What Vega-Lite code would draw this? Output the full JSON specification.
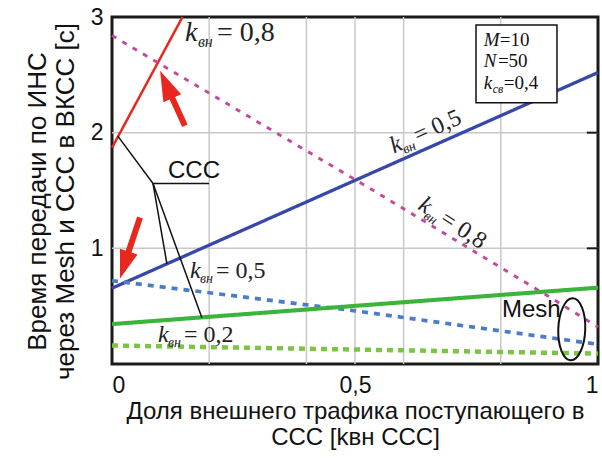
{
  "$schema": "https://vega.github.io/schema/vega-lite/v6.json",
  "width": 486,
  "height": 347,
  "autosize": "none",
  "padding": {"left": 112, "top": 17, "right": 4, "bottom": 96},
  "background": "white",
  "config": {
    "view": {"stroke": "#1a1a1a", "strokeWidth": 3},
    "axis": {
      "grid": false, "domain": false, "ticks": false,
      "labelFont": "Liberation Sans", "labelFontSize": 23, "labelColor": "#111",
      "labelOverlap": false, "labelBound": false,
      "titleFont": "Liberation Sans", "titleFontWeight": "normal", "titleColor": "#111"
    }
  },
  "datasets": {
    "vgrid": [{"x": 0.2}, {"x": 0.4}, {"x": 0.5}, {"x": 0.6}, {"x": 0.8}],
    "hgrid": [{"y": 1}, {"y": 2}],
    "rticks": [{"x": 0.977, "x2": 1, "y": 1}, {"x": 0.977, "x2": 1, "y": 2}],
    "lines": [
      {"s": "ССС 0,8", "x": 0, "y": 1.87}, {"s": "ССС 0,8", "x": 0.145, "y": 3.0},
      {"s": "Mesh 0,8", "x": 0, "y": 2.84}, {"s": "Mesh 0,8", "x": 0.53, "y": 1.52}, {"s": "Mesh 0,8", "x": 0.9, "y": 0.58}, {"s": "Mesh 0,8", "x": 1, "y": 0.32},
      {"s": "ССС 0,5", "x": 0, "y": 0.655}, {"s": "ССС 0,5", "x": 1, "y": 2.52},
      {"s": "Mesh 0,5", "x": 0, "y": 0.72}, {"s": "Mesh 0,5", "x": 0.5, "y": 0.46}, {"s": "Mesh 0,5", "x": 1, "y": 0.17},
      {"s": "ССС 0,2", "x": 0, "y": 0.345}, {"s": "ССС 0,2", "x": 1, "y": 0.66},
      {"s": "Mesh 0,2", "x": 0, "y": 0.16}, {"s": "Mesh 0,2", "x": 1, "y": 0.09}
    ],
    "leaders": [
      {"g": "a", "o": 0, "x": 0.012, "y": 1.97}, {"g": "a", "o": 1, "x": 0.0844, "y": 1.56}, {"g": "a", "o": 2, "x": 0.1996, "y": 1.56},
      {"g": "b", "o": 0, "x": 0.0844, "y": 1.56}, {"g": "b", "o": 1, "x": 0.113, "y": 0.866},
      {"g": "c", "o": 0, "x": 0.0844, "y": 1.56}, {"g": "c", "o": 1, "x": 0.185, "y": 0.40}
    ],
    "shafts": [
      {"a": 1, "o": 0, "x": 0.150, "y": 2.060}, {"a": 1, "o": 1, "x": 0.119, "y": 2.345},
      {"a": 2, "o": 0, "x": 0.0576, "y": 1.267}, {"a": 2, "o": 1, "x": 0.0309, "y": 0.931}
    ],
    "head1": [{"x": 0.1115, "y": 2.416}],
    "head2": [{"x": 0.0255, "y": 0.856}],
    "ellipse": [{"x": 0.946, "y": 0.30}],
    "topLab": [{"x": 0.150, "y": 2.793, "k": "k", "sub": "вн", "rest": "= 0,8"}],
    "klabels": [
      {"x": 0.1605, "y": 0.741, "k": "k", "sub": "вн", "rest": "= 0,5"},
      {"x": 0.0947, "y": 0.19, "k": "k", "sub": "вн", "rest": "= 0,2"}
    ],
    "rotBlue": [{"x": 0.580, "y": 1.819, "k": "k", "sub": "вн", "rest": "= 0,5"}],
    "rotMag": [{"x": 0.6276, "y": 1.345, "k": "k", "sub": "вн", "rest": "= 0,8"}],
    "box": [{"x": 0.749, "x2": 0.9156, "y": 2.931, "y2": 2.259}],
    "boxVar": [{"x": 0.765, "y": 2.750, "t": "M"}, {"x": 0.765, "y": 2.565, "t": "N"}, {"x": 0.765, "y": 2.375, "t": "k"}],
    "boxSub": [{"x": 0.765, "y": 2.375, "t": "св"}],
    "boxVal": [{"x": 0.798, "y": 2.750, "t": "=10"}, {"x": 0.794, "y": 2.565, "t": "=50"}, {"x": 0.806, "y": 2.375, "t": "=0,4"}],
    "sans": [{"x": 0.1152, "y": 1.612, "t": "ССС"}, {"x": 0.8025, "y": 0.405, "t": "Mesh"}]
  },
  "layer": [
    {
      "data": {"name": "vgrid"},
      "mark": {"type": "rule", "color": "#c8c8c8", "strokeWidth": 1.5},
      "encoding": {"x": {"field": "x", "type": "quantitative"}}
    },
    {
      "data": {"name": "hgrid"},
      "mark": {"type": "rule", "color": "#c8c8c8", "strokeWidth": 1.5},
      "encoding": {"y": {"field": "y", "type": "quantitative"}}
    },
    {
      "data": {"name": "lines"},
      "mark": {"type": "line", "strokeCap": "butt"},
      "encoding": {
        "x": {
          "field": "x", "type": "quantitative",
          "scale": {"domain": [0, 1], "nice": false},
          "axis": {
            "values": [0, 0.5, 1],
            "labelExpr": "replace(format(datum.value, '~g'), '.', ',')",
            "labelFlush": true,
            "labelPadding": 10,
            "title": ["Доля внешнего трафика поступающего в", "ССС [kвн ССС]"],
            "titleFontSize": 24, "titleLineHeight": 26, "titlePadding": 2
          }
        },
        "y": {
          "field": "y", "type": "quantitative",
          "scale": {"domain": [0, 3], "nice": false},
          "axis": {
            "values": [1, 2, 3],
            "labelExpr": "replace(format(datum.value, '~g'), '.', ',')",
            "labelFlush": false,
            "labelPadding": 9,
            "title": ["Время передачи по  ИНС", "через Mesh и ССС в ВКСС [с]"],
            "titleFontSize": 26, "titleLineHeight": 28, "titlePadding": 12, "titleY": 184
          }
        },
        "detail": {"field": "s"},
        "color": {
          "field": "s", "legend": null,
          "scale": {
            "domain": ["ССС 0,8", "Mesh 0,8", "ССС 0,5", "Mesh 0,5", "ССС 0,2", "Mesh 0,2"],
            "range": ["#e8281e", "#c4489c", "#3848a8", "#4a7cc8", "#3cb43c", "#7cc444"]
          }
        },
        "strokeDash": {
          "field": "s", "legend": null,
          "scale": {
            "domain": ["ССС 0,8", "Mesh 0,8", "ССС 0,5", "Mesh 0,5", "ССС 0,2", "Mesh 0,2"],
            "range": [[1, 0], [5, 7], [1, 0], [6, 6], [1, 0], [6, 5]]
          }
        },
        "strokeWidth": {
          "field": "s", "type": "nominal", "legend": null,
          "scale": {
            "domain": ["ССС 0,8", "Mesh 0,8", "ССС 0,5", "Mesh 0,5", "ССС 0,2", "Mesh 0,2"],
            "range": [2.5, 4.5, 3.5, 4, 4, 4.5]
          }
        }
      }
    },
    {
      "data": {"name": "rticks"},
      "mark": {"type": "rule", "color": "#1a1a1a", "strokeWidth": 2},
      "encoding": {
        "x": {"field": "x", "type": "quantitative"},
        "x2": {"field": "x2"},
        "y": {"field": "y", "type": "quantitative"}
      }
    },
    {
      "data": {"name": "leaders"},
      "mark": {"type": "line", "color": "#111", "strokeWidth": 1.5},
      "encoding": {
        "x": {"field": "x", "type": "quantitative"},
        "y": {"field": "y", "type": "quantitative"},
        "detail": {"field": "g"},
        "order": {"field": "o"}
      }
    },
    {
      "data": {"name": "shafts"},
      "mark": {"type": "line", "color": "#e8281e", "strokeWidth": 6, "strokeCap": "butt"},
      "encoding": {
        "x": {"field": "x", "type": "quantitative"},
        "y": {"field": "y", "type": "quantitative"},
        "detail": {"field": "a"},
        "order": {"field": "o"}
      }
    },
    {
      "data": {"name": "head1"},
      "mark": {"type": "point", "shape": "M0,-1L0.65,1L-0.65,1Z", "size": 900, "angle": -24, "filled": true, "opacity": 1, "color": "#e8281e"},
      "encoding": {
        "x": {"field": "x", "type": "quantitative"},
        "y": {"field": "y", "type": "quantitative"}
      }
    },
    {
      "data": {"name": "head2"},
      "mark": {"type": "point", "shape": "M0,-1L0.65,1L-0.65,1Z", "size": 800, "angle": 198, "filled": true, "opacity": 1, "color": "#e8281e"},
      "encoding": {
        "x": {"field": "x", "type": "quantitative"},
        "y": {"field": "y", "type": "quantitative"}
      }
    },
    {
      "data": {"name": "ellipse"},
      "mark": {"type": "point", "shape": "M-0.435,0A0.435,1,0,1,1,0.435,0A0.435,1,0,1,1,-0.435,0Z", "size": 3844, "angle": 2, "filled": false, "opacity": 1, "color": "#111", "strokeWidth": 2},
      "encoding": {
        "x": {"field": "x", "type": "quantitative"},
        "y": {"field": "y", "type": "quantitative"}
      }
    },
    {
      "data": {"name": "topLab"},
      "mark": {"type": "text", "font": "Liberation Serif", "fontStyle": "italic", "fontSize": 28, "align": "left", "baseline": "alphabetic", "color": "#222"},
      "encoding": {"x": {"field": "x", "type": "quantitative"}, "y": {"field": "y", "type": "quantitative"}, "text": {"field": "k"}}
    },
    {
      "data": {"name": "topLab"},
      "mark": {"type": "text", "font": "Liberation Serif", "fontStyle": "italic", "fontSize": 16, "align": "left", "baseline": "alphabetic", "dx": 13, "dy": 6, "color": "#222"},
      "encoding": {"x": {"field": "x", "type": "quantitative"}, "y": {"field": "y", "type": "quantitative"}, "text": {"field": "sub"}}
    },
    {
      "data": {"name": "topLab"},
      "mark": {"type": "text", "font": "Liberation Serif", "fontSize": 28, "align": "left", "baseline": "alphabetic", "dx": 32, "color": "#222"},
      "encoding": {"x": {"field": "x", "type": "quantitative"}, "y": {"field": "y", "type": "quantitative"}, "text": {"field": "rest"}}
    },
    {
      "data": {"name": "klabels"},
      "mark": {"type": "text", "font": "Liberation Serif", "fontStyle": "italic", "fontSize": 24, "align": "left", "baseline": "alphabetic", "color": "#222"},
      "encoding": {"x": {"field": "x", "type": "quantitative"}, "y": {"field": "y", "type": "quantitative"}, "text": {"field": "k"}}
    },
    {
      "data": {"name": "klabels"},
      "mark": {"type": "text", "font": "Liberation Serif", "fontStyle": "italic", "fontSize": 14, "align": "left", "baseline": "alphabetic", "dx": 10, "dy": 5, "color": "#222"},
      "encoding": {"x": {"field": "x", "type": "quantitative"}, "y": {"field": "y", "type": "quantitative"}, "text": {"field": "sub"}}
    },
    {
      "data": {"name": "klabels"},
      "mark": {"type": "text", "font": "Liberation Serif", "fontSize": 24, "align": "left", "baseline": "alphabetic", "dx": 26, "color": "#222"},
      "encoding": {"x": {"field": "x", "type": "quantitative"}, "y": {"field": "y", "type": "quantitative"}, "text": {"field": "rest"}}
    },
    {
      "data": {"name": "rotBlue"},
      "mark": {"type": "text", "font": "Liberation Serif", "fontStyle": "italic", "fontSize": 24, "align": "left", "baseline": "alphabetic", "angle": -24, "color": "#222"},
      "encoding": {"x": {"field": "x", "type": "quantitative"}, "y": {"field": "y", "type": "quantitative"}, "text": {"field": "k"}}
    },
    {
      "data": {"name": "rotBlue"},
      "mark": {"type": "text", "font": "Liberation Serif", "fontStyle": "italic", "fontSize": 14, "align": "left", "baseline": "alphabetic", "angle": -24, "dx": 10, "dy": 5, "color": "#222"},
      "encoding": {"x": {"field": "x", "type": "quantitative"}, "y": {"field": "y", "type": "quantitative"}, "text": {"field": "sub"}}
    },
    {
      "data": {"name": "rotBlue"},
      "mark": {"type": "text", "font": "Liberation Serif", "fontSize": 24, "align": "left", "baseline": "alphabetic", "angle": -24, "dx": 26, "color": "#222"},
      "encoding": {"x": {"field": "x", "type": "quantitative"}, "y": {"field": "y", "type": "quantitative"}, "text": {"field": "rest"}}
    },
    {
      "data": {"name": "rotMag"},
      "mark": {"type": "text", "font": "Liberation Serif", "fontStyle": "italic", "fontSize": 24, "align": "left", "baseline": "alphabetic", "angle": 33, "color": "#222"},
      "encoding": {"x": {"field": "x", "type": "quantitative"}, "y": {"field": "y", "type": "quantitative"}, "text": {"field": "k"}}
    },
    {
      "data": {"name": "rotMag"},
      "mark": {"type": "text", "font": "Liberation Serif", "fontStyle": "italic", "fontSize": 14, "align": "left", "baseline": "alphabetic", "angle": 33, "dx": 10, "dy": 5, "color": "#222"},
      "encoding": {"x": {"field": "x", "type": "quantitative"}, "y": {"field": "y", "type": "quantitative"}, "text": {"field": "sub"}}
    },
    {
      "data": {"name": "rotMag"},
      "mark": {"type": "text", "font": "Liberation Serif", "fontSize": 24, "align": "left", "baseline": "alphabetic", "angle": 33, "dx": 26, "color": "#222"},
      "encoding": {"x": {"field": "x", "type": "quantitative"}, "y": {"field": "y", "type": "quantitative"}, "text": {"field": "rest"}}
    },
    {
      "data": {"name": "box"},
      "mark": {"type": "rect", "fill": "white", "stroke": "#111", "strokeWidth": 1.5},
      "encoding": {
        "x": {"field": "x", "type": "quantitative"}, "x2": {"field": "x2"},
        "y": {"field": "y", "type": "quantitative"}, "y2": {"field": "y2"}
      }
    },
    {
      "data": {"name": "boxVar"},
      "mark": {"type": "text", "font": "Liberation Serif", "fontStyle": "italic", "fontSize": 19, "align": "left", "baseline": "alphabetic", "color": "#111"},
      "encoding": {"x": {"field": "x", "type": "quantitative"}, "y": {"field": "y", "type": "quantitative"}, "text": {"field": "t"}}
    },
    {
      "data": {"name": "boxSub"},
      "mark": {"type": "text", "font": "Liberation Serif", "fontStyle": "italic", "fontSize": 12, "align": "left", "baseline": "alphabetic", "dx": 9, "dy": 4, "color": "#111"},
      "encoding": {"x": {"field": "x", "type": "quantitative"}, "y": {"field": "y", "type": "quantitative"}, "text": {"field": "t"}}
    },
    {
      "data": {"name": "boxVal"},
      "mark": {"type": "text", "font": "Liberation Serif", "fontSize": 19, "align": "left", "baseline": "alphabetic", "color": "#111"},
      "encoding": {"x": {"field": "x", "type": "quantitative"}, "y": {"field": "y", "type": "quantitative"}, "text": {"field": "t"}}
    },
    {
      "data": {"name": "sans"},
      "mark": {"type": "text", "font": "Liberation Sans", "fontSize": 24, "align": "left", "baseline": "alphabetic", "color": "#111"},
      "encoding": {"x": {"field": "x", "type": "quantitative"}, "y": {"field": "y", "type": "quantitative"}, "text": {"field": "t"}}
    }
  ]
}
